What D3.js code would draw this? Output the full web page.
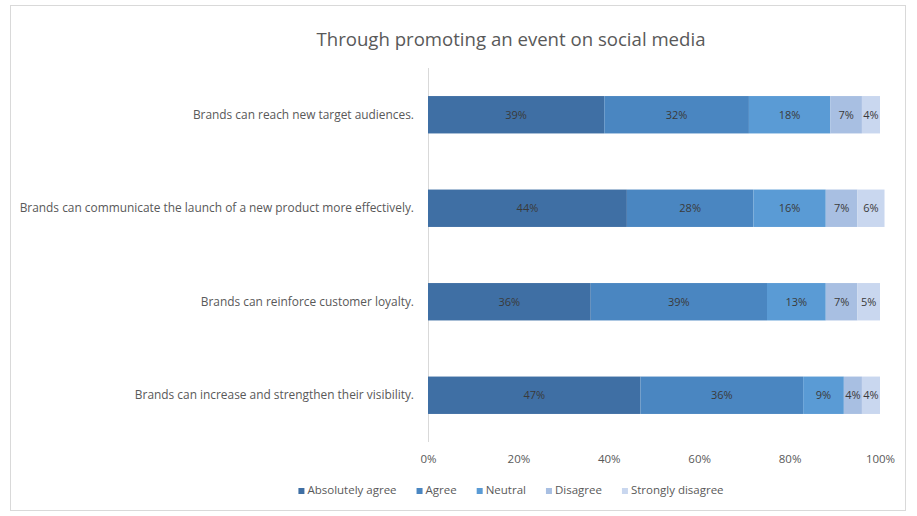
<!DOCTYPE html>
<html>
<head>
<meta charset="utf-8">
<script src="https://cdn.jsdelivr.net/npm/d3@7"></script>
<style>
  body { margin: 0; background: #fff; }
  svg { display: block; font-family: "Open Sans", Lato, sans-serif; }
</style>
</head>
<body>
<svg id="chart"></svg>
<script>
// Data
const categories = [
    "Brands can reach new target audiences.",
    "Brands can communicate the launch of a new product more effectively.",
    "Brands can reinforce customer loyalty.",
    "Brands can increase and strengthen their visibility."
];
const seriesNames = ["Absolutely agree", "Agree", "Neutral", "Disagree", "Strongly disagree"];
const absolutelyAgree = [39, 44, 36, 47];
const agree = [32, 28, 39, 36];
const neutral = [18, 16, 13, 9];
const disagree = [7, 7, 7, 4];
const stronglyDisagree = [4, 6, 5, 4];
const tickValues = [0, 20, 40, 60, 80, 100];

const colors = ["#3f6fa4", "#4a86c1", "#5a9bd5", "#a8bfe2", "#c9d7ef"];

const width = 917, height = 516;
const margin = { top: 68, right: 37, bottom: 74, left: 428 };
const fontFam = "'Open Sans', Lato, sans-serif";

const svg = d3.select("#chart")
    .attr("width", width)
    .attr("height", height);

// chart border
svg.append("rect")
    .attr("x", 10.5).attr("y", 5.5)
    .attr("width", 895).attr("height", 505)
    .attr("fill", "#fff")
    .attr("stroke", "#d9d9d9");

// title
svg.append("text")
    .attr("x", 511).attr("y", 46)
    .attr("text-anchor", "middle")
    .attr("font-size", 18.6)
    .attr("fill", "#595959")
    .text("Through promoting an event on social media");

const table = categories.map((c, i) => ({
    category: c,
    "Absolutely agree": absolutelyAgree[i],
    "Agree": agree[i],
    "Neutral": neutral[i],
    "Disagree": disagree[i],
    "Strongly disagree": stronglyDisagree[i]
}));

const stack = d3.stack().keys(seriesNames);
const series = stack(table);

const x = d3.scaleLinear()
    .domain([0, 100])
    .range([margin.left, width - margin.right]);

const y = d3.scaleBand()
    .domain(categories)
    .range([margin.top, height - margin.bottom])
    .paddingInner(0.6)
    .paddingOuter(0.3);

const color = d3.scaleOrdinal().domain(seriesNames).range(colors);

// vertical axis line
svg.append("line")
    .attr("x1", x(0) + 0.5).attr("x2", x(0) + 0.5)
    .attr("y1", margin.top).attr("y2", height - margin.bottom)
    .attr("stroke", "#d9d9d9");

// bars
const groups = svg.append("g")
    .selectAll("g")
    .data(series)
    .join("g")
    .attr("fill", d => color(d.key));

groups.selectAll("rect")
    .data(d => d)
    .join("rect")
    .attr("x", d => x(d[0]))
    .attr("y", d => y(d.data.category))
    .attr("width", d => x(d[1]) - x(d[0]))
    .attr("height", y.bandwidth());

// value labels
groups.selectAll("text")
    .data(d => d)
    .join("text")
    .attr("x", d => (x(d[0]) + x(d[1])) / 2)
    .attr("y", d => y(d.data.category) + y.bandwidth() / 2)
    .attr("dy", "0.35em")
    .attr("text-anchor", "middle")
    .attr("font-size", 11)
    .attr("fill", "#3a3a3a")
    .text(d => (d[1] - d[0]) + "%");

// category labels
const yAxis = svg.append("g")
    .attr("transform", `translate(${x(0) - 14},0)`)
    .call(d3.axisLeft(y).tickSize(0).tickPadding(0));
yAxis.select(".domain").remove();
yAxis.selectAll("text")
    .attr("font-size", 11.9)
    .attr("fill", "#595959")
    .attr("font-family", fontFam);

// x axis
const xAxis = svg.append("g")
    .attr("transform", `translate(0,${height - margin.bottom})`)
    .call(d3.axisBottom(x).tickValues(tickValues).tickSize(0).tickPadding(13).tickFormat(d => d + "%"));
xAxis.select(".domain").remove();
xAxis.selectAll("text")
    .attr("font-size", 11.5)
    .attr("fill", "#595959")
    .attr("font-family", fontFam);

// legend
const legend = svg.append("g").attr("transform", "translate(0,494)");
const items = legend.selectAll("g")
    .data(seriesNames)
    .join("g");
items.append("rect")
    .attr("width", 6).attr("height", 6)
    .attr("y", -6)
    .attr("fill", d => color(d));
items.append("text")
    .attr("x", 9)
    .attr("y", 0)
    .attr("font-size", 11.5)
    .attr("fill", "#595959")
    .text(d => d);

let offset = 0;
const positions = [];
items.each(function () {
    const w = this.getBBox().width;
    positions.push(offset);
    offset += w + 20;
});
const totalW = offset - 20;
const startX = 511 - totalW / 2;
items.attr("transform", (d, i) => `translate(${startX + positions[i]},0)`);
</script>
</body>
</html>
